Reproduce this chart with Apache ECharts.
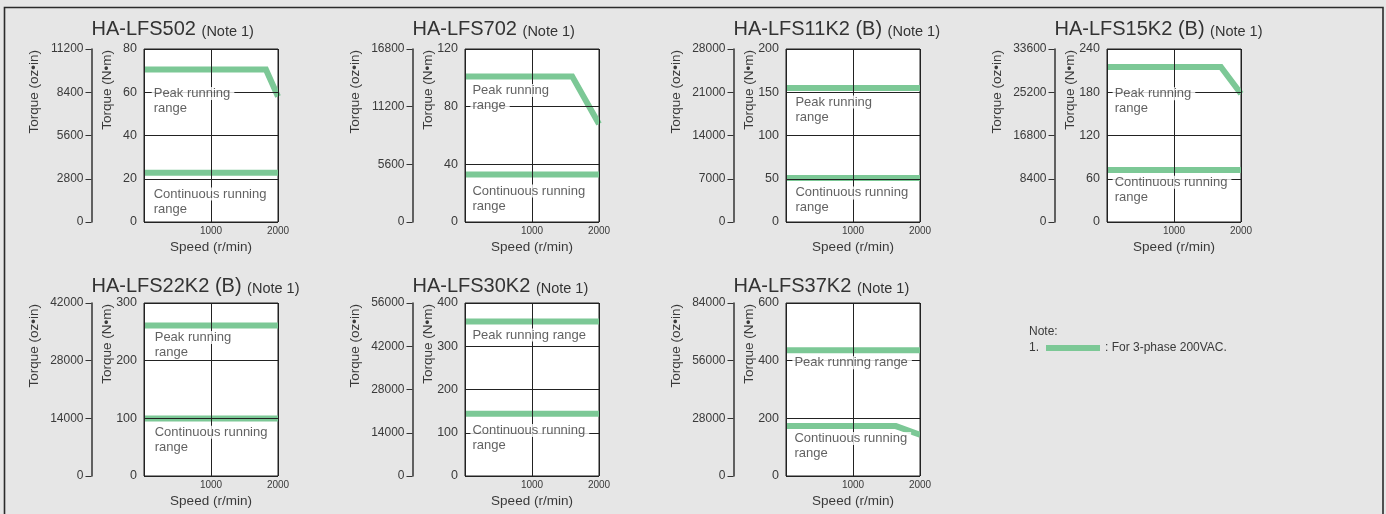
<!DOCTYPE html>
<html>
<head>
<meta charset="utf-8">
<script src="https://cdn.jsdelivr.net/npm/echarts@6/dist/echarts.min.js"></script>
<style>
html,body{margin:0;padding:0;background:#e6e6e6;}
#c{width:1386px;height:514px;}
</style>
</head>
<body>
<div id="c"></div>
<script>
// ---------- data ----------
const models = ['HA-LFS502', 'HA-LFS702', 'HA-LFS11K2 (B)', 'HA-LFS15K2 (B)', 'HA-LFS22K2 (B)', 'HA-LFS30K2', 'HA-LFS37K2'];
const noteText = '(Note 1)';
const speedMax = 2000;
const speedInterval = 1000;
const nmMax = [80, 120, 200, 240, 300, 400, 600];
const nmInterval = [20, 40, 50, 60, 100, 100, 200];
const ozMax = [11200, 16800, 28000, 33600, 42000, 56000, 84000];
const ozInterval = [2800, 5600, 7000, 8400, 14000, 14000, 28000];

// torque curves [speed r/min, torque N·m]
const peakCurves = [
  [[0, 70.5], [1820, 70.5], [2000, 58]],
  [[0, 101], [1600, 101], [2000, 68]],
  [[0, 155], [2000, 155]],
  [[0, 215], [1700, 215], [2000, 178]],
  [[0, 261], [2000, 261]],
  [[0, 357], [2000, 357]],
  [[0, 436], [2000, 436]]
];
const contCurves = [
  [[0, 22.8], [2000, 22.8]],
  [[0, 33], [2000, 33]],
  [[0, 51], [2000, 51]],
  [[0, 72], [2000, 72]],
  [[0, 99.5], [2000, 99.5]],
  [[0, 144], [2000, 144]],
  [[0, 173], [1640, 173], [2000, 143]]
];

// annotation text and anchor (speed, torque)
const peakLabelText = ['Peak running\nrange', 'Peak running\nrange', 'Peak running\nrange', 'Peak running\nrange', 'Peak running\nrange', 'Peak running range', 'Peak running range'];
const contLabelText = ['Continuous running\nrange', 'Continuous running\nrange', 'Continuous running\nrange', 'Continuous running\nrange', 'Continuous running\nrange', 'Continuous running\nrange', 'Continuous running\nrange'];
const peakLabelPos = [[145, 56], [111, 86], [140, 130], [114, 167.5], [160, 227], [111, 326], [125, 393]];
const contLabelPos = [[145, 9.5], [111, 16.3], [140, 25], [114, 44.7], [160, 63], [111, 87.6], [125, 104]];

const xName = 'Speed (r/min)';
const yNameNm = 'Torque (N•m)';
const yNameOz = 'Torque (oz•in)';
const noteTitle = 'Note:';
const noteItem = ': For 3-phase 200VAC.';

// ---------- layout / style ----------
const FONT = '"Liberation Sans", Arial, Helvetica, sans-serif';
const GREEN = '#7cc896';
const TXT = '#3a3a3a';
const LINE = '#222';
const colLeft = [144, 465, 786, 1107];
const rowTop = [49, 303];
const titleTop = [17.5, 274];
const boxW = 134, boxH = 173;
const ozOffset = 52.5;

const grids = [], xAxes = [], yAxes = [], series = [], titles = [], graphics = [];

// outer frame
graphics.push({
  type: 'polyline', z: -10, silent: true,
  shape: { points: [[4.5, 520], [4.5, 7.5], [1383, 7.5], [1383, 520]] },
  style: { stroke: '#2b2b2b', lineWidth: 1.6, fill: null }
});

models.forEach((m, i) => {
  const col = i % 4, row = Math.floor(i / 4);
  const left = colLeft[col], top = rowTop[row];
  const ozX = left - ozOffset;

  grids.push({
    left: left, top: top, width: boxW, height: boxH,
    show: true, backgroundColor: '#fff', borderColor: LINE, borderWidth: 1
  });

  xAxes.push({
    gridIndex: i, type: 'value', min: 0, max: speedMax, interval: speedInterval, z: 3,
    name: xName, nameLocation: 'middle', nameGap: 18,
    nameTextStyle: { fontFamily: FONT, fontSize: 13.5, color: TXT, fontWeight: 'normal' },
    axisLine: { show: false }, axisTick: { show: false },
    splitLine: { show: true, lineStyle: { color: LINE, width: 1 } },
    axisLabel: { fontFamily: FONT, fontSize: 10, color: TXT, margin: 4,
      formatter: v => (v === 0 ? '' : String(v)) }
  });

  // N·m axis (index 2i)
  yAxes.push({
    gridIndex: i, type: 'value', min: 0, max: nmMax[i], interval: nmInterval[i], z: 3,
    position: 'left',
    axisLine: { show: false }, axisTick: { show: false },
    splitLine: { show: true, lineStyle: { color: LINE, width: 1 } },
    axisLabel: { fontFamily: FONT, fontSize: 12.5, color: TXT, margin: 7, formatter: v => String(v) }
  });
  // oz·in axis (index 2i+1)
  yAxes.push({
    gridIndex: i, type: 'value', min: 0, max: ozMax[i], interval: ozInterval[i],
    position: 'left', offset: ozOffset,
    axisLine: { show: true, lineStyle: { color: '#333', width: 1.5 } },
    axisTick: { show: true, length: 6, lineStyle: { color: '#333', width: 1 } },
    splitLine: { show: false },
    axisLabel: { fontFamily: FONT, fontSize: 12, color: TXT, margin: 8, formatter: v => String(v) }
  });

  const lineBase = {
    type: 'line', xAxisIndex: i, yAxisIndex: 2 * i, symbol: 'none', z: 2,
    silent: true, animation: false,
    lineStyle: { color: GREEN, width: 6, join: 'miter', cap: 'butt' }
  };
  series.push(Object.assign({}, lineBase, { name: m + ' peak', data: peakCurves[i] }));
  series.push(Object.assign({}, lineBase, { name: m + ' continuous', data: contCurves[i] }));

  const richFmt = t => t.split('\n').map(s => '{a|' + s + '}').join('\n');
  const labelBase = {
    show: true, position: 'right', distance: 0, offset: [-2, 0],
    fontFamily: FONT, fontSize: 13, color: TXT, lineHeight: 15,
    rich: { a: { fontFamily: FONT, fontSize: 13, color: TXT, lineHeight: 15,
      backgroundColor: '#fff', padding: [0, 4, 0, 2] } }
  };
  series.push({
    type: 'scatter', xAxisIndex: i, yAxisIndex: 2 * i, symbolSize: 0, z: 5, silent: true, animation: false,
    data: [
      { value: peakLabelPos[i], label: Object.assign({}, labelBase, { formatter: richFmt(peakLabelText[i]) }) },
      { value: contLabelPos[i], label: Object.assign({}, labelBase, { formatter: richFmt(contLabelText[i]) }) }
    ]
  });

  titles.push({
    text: '{m|' + m + '} {n|' + noteText + '}',
    left: ozX, top: titleTop[row], padding: 0,
    textStyle: {
      fontFamily: FONT, color: '#333', fontWeight: 'normal', fontSize: 20,
      rich: {
        m: { fontFamily: FONT, fontSize: 20, fontWeight: 'normal', color: '#333', verticalAlign: 'bottom', lineHeight: 22 },
        n: { fontFamily: FONT, fontSize: 14.5, fontWeight: 'normal', color: '#333', verticalAlign: 'bottom', lineHeight: 22 }
      }
    }
  });

  // rotated axis names
  graphics.push({
    type: 'text', x: left - 37, y: top + 1, rotation: Math.PI / 2, silent: true,
    style: { text: yNameNm, align: 'right', verticalAlign: 'middle', fontFamily: FONT, fontSize: 13.5, fill: TXT }
  });
  graphics.push({
    type: 'text', x: ozX - 57.5, y: top + 1, rotation: Math.PI / 2, silent: true,
    style: { text: yNameOz, align: 'right', verticalAlign: 'middle', fontFamily: FONT, fontSize: 13.5, fill: TXT }
  });
});

// note / legend
graphics.push({ type: 'text', x: 1029, y: 332, silent: true,
  style: { text: noteTitle, verticalAlign: 'middle', fontFamily: FONT, fontSize: 12, fill: TXT } });
graphics.push({ type: 'text', x: 1029, y: 348, silent: true,
  style: { text: '1.', verticalAlign: 'middle', fontFamily: FONT, fontSize: 12, fill: TXT } });
graphics.push({ type: 'rect', x: 1046, y: 345, silent: true,
  shape: { width: 54, height: 6 }, style: { fill: GREEN } });
graphics.push({ type: 'text', x: 1105, y: 348, silent: true,
  style: { text: noteItem, verticalAlign: 'middle', fontFamily: FONT, fontSize: 12, fill: TXT } });

const chart = echarts.init(document.getElementById('c'), null, { renderer: 'canvas' });
chart.setOption({
  animation: false,
  backgroundColor: 'transparent',
  textStyle: { fontFamily: FONT },
  title: titles,
  grid: grids,
  xAxis: xAxes,
  yAxis: yAxes,
  series: series,
  graphic: { elements: graphics }
});
</script>
</body>
</html>
